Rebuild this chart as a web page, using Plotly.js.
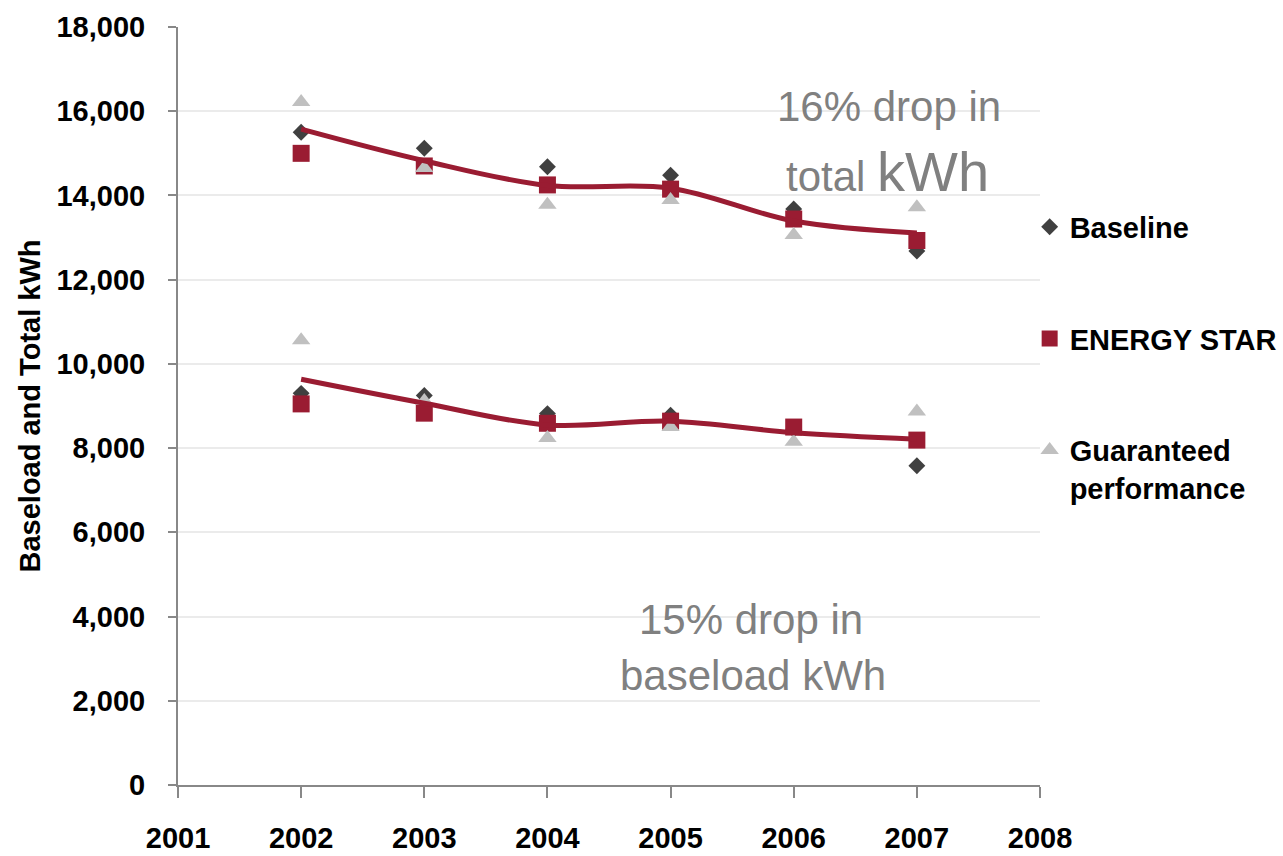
<!DOCTYPE html>
<html>
<head>
<meta charset="utf-8">
<script src="https://cdn.plot.ly/plotly-3.0.1.min.js"></script>
<style>
  html, body { margin: 0; padding: 0; background: #ffffff; }
  #chart { width: 1283px; height: 856px; }
</style>
</head>
<body>
<div id="chart"></div>
<script>
// Household kWh by year: total consumption (upper group) and baseload (lower group)
const years = [2002, 2003, 2004, 2005, 2006, 2007];

const baselineTotal    = [15500, 15120, 14680, 14480, 13680, 12680];
const energyStarTotal  = [15000, 14700, 14250, 14150, 13440, 12930];
const guaranteedTotal  = [16220, 14650, 13780, 13890, 13060, 13720];

const baselineBase     = [9300, 9250, 8820, 8780, 8450, 7580];
const energyStarBase   = [9050, 8830, 8590, 8640, 8500, 8190];
const guaranteedBase   = [10560, 9120, 8240, 8500, 8150, 8870];

const seriesNames = ['Baseline', 'ENERGY STAR', 'Guaranteed<br>performance'];
const xTicks = [2001, 2002, 2003, 2004, 2005, 2006, 2007, 2008];
const yTicks = [0, 2000, 4000, 6000, 8000, 10000, 12000, 14000, 16000, 18000];

// Trend through the mean of the three groups in each year
function yearlyMean(a, b, c) {
  return a.map((v, i) => (v + b[i] + c[i]) / 3);
}
const meanTotal = yearlyMean(baselineTotal, energyStarTotal, guaranteedTotal);
const meanBase  = yearlyMean(baselineBase, energyStarBase, guaranteedBase);

const FONT = '"Liberation Sans", Arial, sans-serif';
const RED = '#9a1c32';

function pointTrace(name, total, base, symbol, size, color, group) {
  return {
    type: 'scatter', mode: 'markers', name: name,
    legendgroup: group,
    x: years.concat([null], years),
    y: total.concat([null], base),
    marker: { symbol: symbol, size: size, color: color, line: { width: 0 } },
    hoverinfo: 'x+y'
  };
}

function trendTrace(values) {
  return {
    type: 'scatter', mode: 'lines', showlegend: false,
    x: years, y: values,
    line: { color: RED, width: 5, shape: 'spline', smoothing: 1 },
    hoverinfo: 'skip'
  };
}

const data = [
  pointTrace(seriesNames[0], baselineTotal, baselineBase, 'diamond', 13, '#404040', 'a'),
  pointTrace(seriesNames[1], energyStarTotal, energyStarBase, 'square', 17, RED, 'b'),
  pointTrace(seriesNames[2], guaranteedTotal, guaranteedBase, 'triangle-up', 16, '#c0c0c0', 'c'),
  trendTrace(meanTotal),
  trendTrace(meanBase)
];

const labelFont = { family: FONT, size: 29, color: '#000000', weight: 'bold' };
const noteFont = { family: FONT, size: 42, color: '#808080' };

const layout = {
  width: 1283, height: 856,
  margin: { l: 178, r: 243, t: 27, b: 71, autoexpand: false },
  paper_bgcolor: '#ffffff', plot_bgcolor: '#ffffff',
  showlegend: true,
  legend: {
    x: 0.988, xanchor: 'left', y: 0.77, yanchor: 'top',
    font: labelFont,
    tracegroupgap: 71, valign: 'top', bgcolor: 'rgba(0,0,0,0)'
  },
  xaxis: {
    range: [2001, 2008], tickvals: xTicks, ticktext: xTicks.map(String),
    showgrid: false, zeroline: false,
    showline: true, linecolor: '#888888', linewidth: 2,
    ticks: 'outside', ticklen: 11, tickwidth: 2, tickcolor: '#888888',
    ticklabelstandoff: 15,
    tickfont: labelFont,
    fixedrange: true
  },
  yaxis: {
    range: [0, 18000], tickvals: yTicks, tickformat: ',d',
    showgrid: true, gridcolor: '#ebebeb', gridwidth: 2,
    zeroline: false,
    showline: true, linecolor: '#888888', linewidth: 2,
    ticks: 'outside', ticklen: 8, tickwidth: 2, tickcolor: '#888888',
    ticklabelstandoff: 17,
    tickfont: labelFont,
    title: { text: 'Baseload and Total kWh', standoff: 7, font: labelFont },
    fixedrange: true
  },
  annotations: [
    { xref: 'paper', yref: 'paper', x: 0.825, y: 0.895, text: '16% drop in',
      showarrow: false, xanchor: 'center', yanchor: 'middle', font: noteFont },
    { xref: 'paper', yref: 'paper', x: 0.823, y: 0.809,
      text: 'total <span style="font-size:56px">kWh</span>',
      showarrow: false, xanchor: 'center', yanchor: 'middle', font: noteFont },
    { xref: 'paper', yref: 'paper', x: 0.665, y: 0.218, text: '15% drop in',
      showarrow: false, xanchor: 'center', yanchor: 'middle', font: noteFont },
    { xref: 'paper', yref: 'paper', x: 0.667, y: 0.144, text: 'baseload kWh',
      showarrow: false, xanchor: 'center', yanchor: 'middle', font: noteFont }
  ]
};

Plotly.newPlot('chart', data, layout, { displayModeBar: false, staticPlot: true });
</script>
</body>
</html>
